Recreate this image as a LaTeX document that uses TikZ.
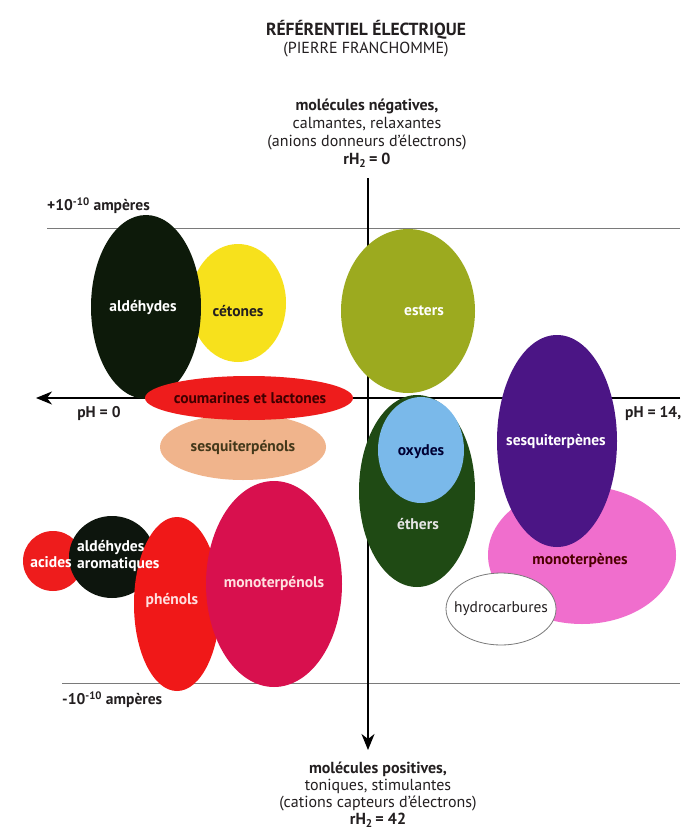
\documentclass[tikz,border=0pt]{standalone}
\usepackage{fontspec}
\setmainfont{PT Sans}
\usetikzlibrary{shapes.geometric,arrows.meta}

\definecolor{cAld}{HTML}{0D1A0A}
\definecolor{cCet}{HTML}{F7E11C}
\definecolor{cEst}{HTML}{9CAA1F}
\definecolor{cCou}{HTML}{EE1C1C}
\definecolor{cSqo}{HTML}{F0B48C}
\definecolor{cOxy}{HTML}{7AB9EA}
\definecolor{cEth}{HTML}{1F4A14}
\definecolor{cSqe}{HTML}{4B1585}
\definecolor{cMte}{HTML}{F06ECD}
\definecolor{cAci}{HTML}{EE1C1C}
\definecolor{cAar}{HTML}{0D150D}
\definecolor{cPhe}{HTML}{F01818}
\definecolor{cMto}{HTML}{D8104E}
\definecolor{txtDark}{HTML}{231F20}
\definecolor{gridGray}{HTML}{7A7A7A}

\tikzset{
  blob/.style={ellipse, inner sep=0pt, draw=none},
  lbl/.style={font=\fontsize{15.5}{17}\selectfont\bfseries, inner sep=0pt},
  axis/.style={line width=1.8pt, draw=black},
  limit/.style={line width=0.9pt, draw=gridGray},
  heading/.style={align=center, text=txtDark, inner sep=0pt},
  side/.style={font=\fontsize{15.5}{17}\selectfont\bfseries, text=txtDark, inner sep=0pt},
}

\begin{document}
\begin{tikzpicture}[x=1pt,y=-1pt]
\useasboundingbox (0,0) rectangle (680,832);
\fill[white] (0,0) rectangle (680,832);

% title
\node[heading, font=\fontsize{16}{18}\selectfont] (title) at (366,39)
  {{\fontsize{17.5}{18}\selectfont\bfseries RÉFÉRENTIEL ÉLECTRIQUE}\\(PIERRE FRANCHOMME)};

% upper pole
\node[heading, font=\fontsize{16}{18}\selectfont] (top) at (367,133)
  {\textbf{molécules négatives,}\\calmantes, relaxantes\\(anions donneurs d'électrons)\\\textbf{rH\textsubscript{2}\,= 0}};

% lower pole
\node[heading, font=\fontsize{16}{17}\selectfont] (bottom) at (378,795)
  {\textbf{molécules positives,}\\toniques, stimulantes\\(cations capteurs d'électrons)\\\textbf{rH\textsubscript{2}\,= 42}};

% current limits
\coordinate (tl) at (47,228);
\coordinate (tr) at (680,228);
\coordinate (bl) at (62,683);
\coordinate (br) at (680,683);
\draw[limit] (tl) -- (tr);
\draw[limit] (bl) -- (br);
\node[anchor=west, side] (plus) at (47,206) {+10\textsuperscript{-10} ampères};
\node[anchor=west, side] (minus) at (62,700) {-10\textsuperscript{-10} ampères};

% axes
\coordinate (vtop) at (368,178);
\coordinate (vbot) at (368,750);
\coordinate (hright) at (680,398);
\coordinate (hleft) at (36,398);
\draw[axis, -{Stealth[length=16pt,width=13pt,inset=5pt]}] (vtop) -- (vbot);
\draw[axis, -{Stealth[length=16pt,width=13pt,inset=5pt]}] (hright) -- (hleft);
\node[side] (ph0) at (99,414) {pH = 0};
\node[anchor=west, side] (ph14) at (625,414) {pH = 14,};

% families, back to front
\node[blob, fill=cCet, minimum width=96pt, minimum height=118pt] (cetones) at (238,303) {};
\node[blob, fill=cAld, minimum width=110pt, minimum height=184pt] (aldehydes) at (146,307) {};
\node[blob, fill=cSqo, minimum width=166pt, minimum height=66pt] (sesquiterpenols) at (243,447) {};
\node[blob, fill=cCou, minimum width=208pt, minimum height=44pt] (coumarines) at (249,398) {};
\node[blob, fill=cEst, minimum width=134pt, minimum height=164pt] (esters) at (408,311) {};
\node[blob, fill=cEth, minimum width=116pt, minimum height=192pt] (ethers) at (417,491) {};
\node[blob, fill=cOxy, minimum width=86pt, minimum height=106pt] (oxydes) at (421,450) {};
\node[blob, fill=cMte, minimum width=188pt, minimum height=138pt] (monoterpenes) at (582,555) {};
\node[blob, fill=cSqe, minimum width=120pt, minimum height=212pt] (sesquiterpenes) at (557,441) {};
\node[blob, draw=gridGray, line width=0.8pt, fill=white, minimum width=110pt, minimum height=72pt] (hydrocarbures) at (501,609) {};
\node[blob, fill=cAci, minimum width=60pt, minimum height=60pt] (acides) at (53,561) {};
\node[blob, fill=cAar, minimum width=86pt, minimum height=82pt] (aromatiques) at (112,557) {};
\node[blob, fill=cPhe, minimum width=86pt, minimum height=174pt] (phenols) at (177,604) {};
\node[blob, fill=cMto, minimum width=136pt, minimum height=206pt] (monoterpenols) at (274,584) {};

% family names, above every shape
\node[lbl, text=white] (t-ald) at (143,308) {aldéhydes};
\node[lbl, text=txtDark] (t-cet) at (238,311) {cétones};
\node[lbl, text=cAld!70!brown] (t-sqo) at (243,447) {sesquiterpénols};
\node[lbl, text=black!75!red] (t-cou) at (250,398) {coumarines et lactones};
\node[lbl, text=white] (t-est) at (424,311) {esters};
\node[lbl, text=black!80!blue] (t-oxy) at (421,452) {oxydes};
\node[lbl, text=white!90!black] (t-eth) at (418,524) {éthers};
\node[lbl, text=white] (t-sqe) at (556,441) {sesquiterpènes};
\node[lbl, text=black!70!red] (t-mte) at (580,560) {monoterpènes};
\node[inner sep=0pt, font=\fontsize{15.5}{17}\selectfont, text=txtDark] (t-hyd) at (hydrocarbures) {hydrocarbures};
\node[lbl, text=white] (t-aci) at (51,562) {acides};
\node[lbl, text=white, align=left, anchor=west] (t-aar) at (77,556) {aldéhydes\\aromatiques};
\node[lbl, text=white!88!red] (t-phe) at (172,600) {phénols};
\node[lbl, text=white!88!red] (t-mto) at (274,583) {monoterpénols};
\end{tikzpicture}
\end{document}
